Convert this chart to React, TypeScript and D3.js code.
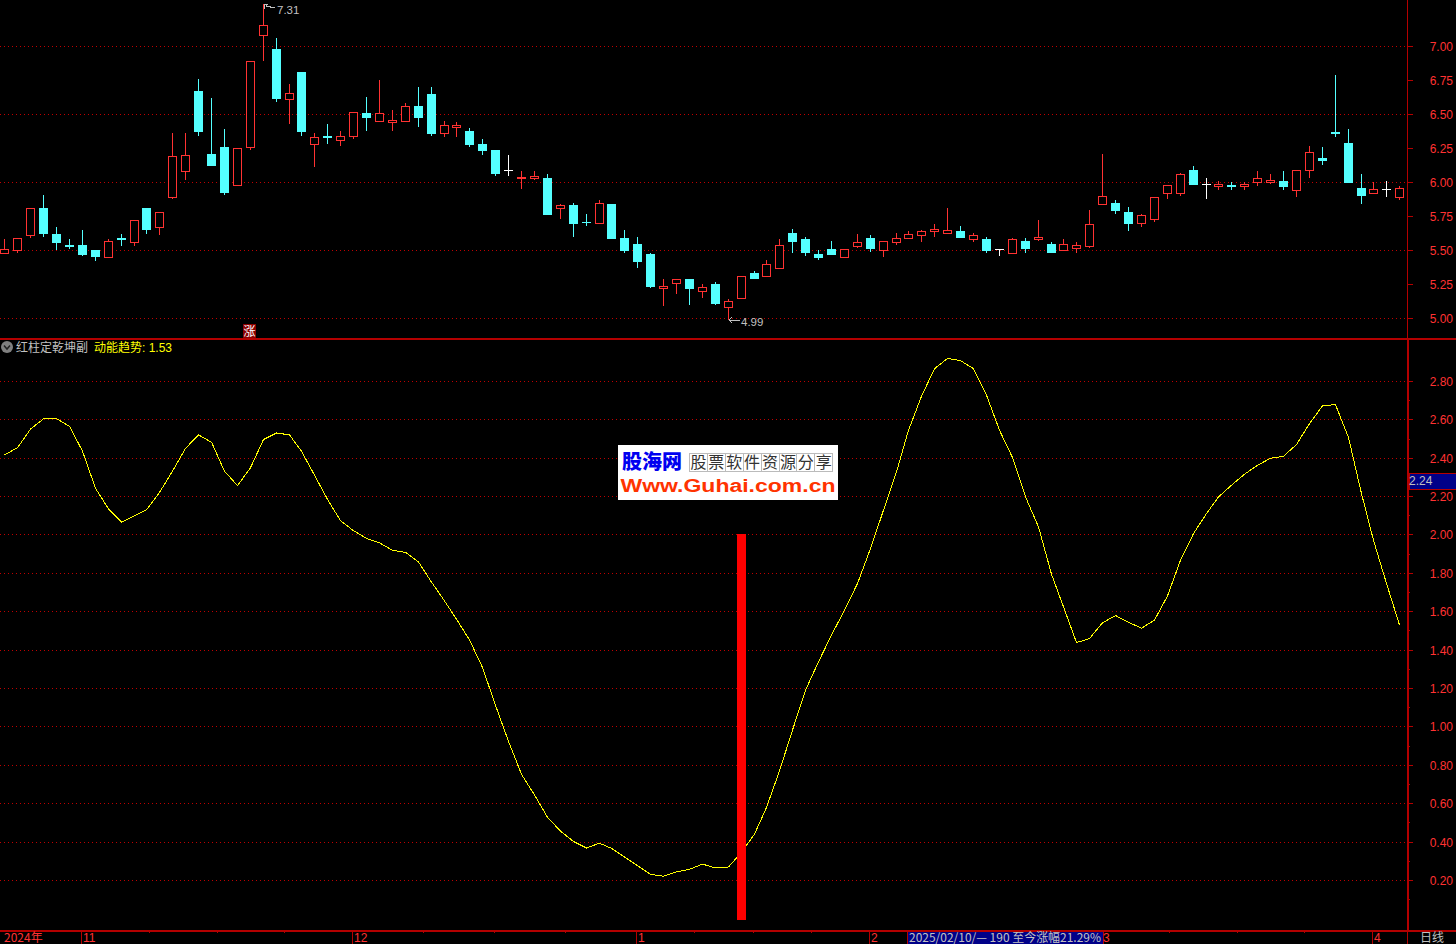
import React from "react";
import * as d3 from "d3";

const highs = [
  5.58,5.59,5.81,5.91,5.67,5.58,5.65,5.50,5.58,5.62,
  5.72,5.81,5.78,6.36,6.36,6.76,6.62,6.39,6.25,6.89,
  7.31,7.06,6.72,6.81,6.36,6.43,6.38,6.52,6.63,6.75,
  6.53,6.58,6.70,6.70,6.45,6.44,6.40,6.32,6.24,6.20,
  6.08,6.08,6.06,5.84,5.85,5.77,5.87,5.84,5.65,5.60,
  5.48,5.29,5.29,5.29,5.25,5.27,5.14,5.31,5.35,5.43,
  5.58,5.66,5.60,5.50,5.57,5.51,5.62,5.61,5.57,5.63,
  5.64,5.65,5.69,5.81,5.68,5.63,5.60,5.51,5.59,5.59,
  5.72,5.56,5.58,5.56,5.80,6.21,5.87,5.82,5.77,5.89,
  5.98,6.07,6.12,6.03,6.01,6.00,6.00,6.08,6.06,6.08,
  6.09,6.27,6.26,6.79,6.39,6.06,6.00,6.01,5.97,
];
const lows = [
  5.47,5.48,5.59,5.60,5.50,5.51,5.46,5.42,5.45,5.53,
  5.53,5.62,5.61,5.88,6.02,6.34,6.13,5.91,5.98,6.24,
  6.89,6.59,6.43,6.34,6.11,6.28,6.27,6.32,6.38,6.44,
  6.38,6.45,6.41,6.34,6.33,6.33,6.26,6.20,6.05,6.05,
  5.95,6.02,5.76,5.73,5.60,5.68,5.70,5.58,5.48,5.37,
  5.22,5.09,5.18,5.10,5.15,5.10,4.99,5.15,5.29,5.31,
  5.36,5.48,5.46,5.43,5.47,5.45,5.52,5.49,5.45,5.54,
  5.59,5.56,5.60,5.63,5.59,5.56,5.48,5.46,5.48,5.48,
  5.57,5.48,5.50,5.48,5.52,5.84,5.77,5.64,5.67,5.71,
  5.88,5.90,5.99,5.88,5.94,5.94,5.94,5.97,5.99,5.94,
  5.89,6.03,6.13,6.33,6.00,5.84,5.92,5.89,5.87,
];
const opens = [
  5.48,5.50,5.61,5.81,5.62,5.54,5.54,5.50,5.45,5.59,
  5.56,5.81,5.67,5.89,6.08,6.67,6.21,6.26,5.98,6.26,
  7.08,6.98,6.61,6.81,6.28,6.34,6.31,6.34,6.51,6.45,
  6.44,6.45,6.56,6.65,6.36,6.41,6.38,6.28,6.24,6.09,
  6.03,6.03,6.03,5.81,5.83,5.71,5.70,5.84,5.59,5.55,
  5.47,5.22,5.26,5.29,5.20,5.25,5.08,5.15,5.33,5.31,
  5.37,5.63,5.58,5.47,5.51,5.45,5.53,5.59,5.50,5.56,
  5.59,5.61,5.64,5.63,5.64,5.58,5.58,5.51,5.48,5.57,
  5.58,5.55,5.50,5.52,5.53,5.84,5.85,5.78,5.70,5.73,
  5.92,5.92,6.09,5.99,5.97,5.98,5.97,6.00,6.00,6.01,
  5.94,6.09,6.18,6.37,6.29,5.96,5.92,5.95,5.89,
];
const closes = [
  5.51,5.59,5.81,5.63,5.56,5.535,5.47,5.46,5.57,5.585,
  5.72,5.66,5.78,6.19,6.20,6.38,6.13,5.93,6.25,6.89,
  7.16,6.62,6.66,6.38,6.33,6.33,6.34,6.52,6.48,6.51,
  6.46,6.56,6.48,6.36,6.42,6.42,6.28,6.24,6.07,6.09,
  6.04,6.05,5.77,5.83,5.70,5.705,5.85,5.59,5.50,5.42,
  5.24,5.24,5.29,5.22,5.23,5.11,5.13,5.31,5.30,5.40,
  5.54,5.57,5.49,5.45,5.47,5.51,5.56,5.52,5.57,5.59,
  5.62,5.64,5.66,5.65,5.60,5.61,5.50,5.51,5.58,5.52,
  5.60,5.49,5.55,5.54,5.69,5.90,5.80,5.70,5.76,5.89,
  5.98,6.06,5.99,5.99,5.99,5.975,5.99,6.03,6.02,5.97,
  6.09,6.22,6.165,6.365,6.00,5.91,5.95,5.95,5.96,
];
const trend = [
  2.42,2.457,2.554,2.608,2.608,2.569,2.439,2.246,2.138,2.07,
  2.102,2.134,2.224,2.335,2.454,2.524,2.486,2.335,2.26,2.353,
  2.50,2.534,2.524,2.439,2.314,2.188,2.077,2.025,1.985,1.962,
  1.923,1.912,1.862,1.757,1.659,1.564,1.456,1.312,1.115,0.927,
  0.756,0.648,0.532,0.46,0.406,0.372,0.397,0.37,0.325,0.28,
  0.235,0.225,0.247,0.261,0.288,0.268,0.273,0.35,0.444,0.583,
  0.774,0.986,1.194,1.342,1.481,1.611,1.75,1.932,2.132,2.331,
  2.548,2.725,2.869,2.922,2.911,2.869,2.731,2.548,2.406,2.201,
  2.045,1.798,1.628,1.442,1.463,1.545,1.583,1.548,1.517,1.559,
  1.685,1.871,2.01,2.114,2.201,2.262,2.319,2.366,2.402,2.413,
  2.474,2.583,2.675,2.682,2.51,2.218,1.975,1.75,1.533,
];
const signalIndex = [57];
const signalTop = 2.0;
const priceTicks = [7.0,6.75,6.5,6.25,6.0,5.75,5.5,5.25,5.0];
const priceGrid = [7.0,6.5,6.0,5.5,5.0];
const trendTicks = [2.8,2.6,2.4,2.2,2.0,1.8,1.6,1.4,1.2,1.0,0.8,0.6,0.4,0.2];
const trendMinor = [2.7,2.5,2.3,2.1,1.9,1.7,1.5,1.3,1.1,0.9,0.7,0.5,0.3,0.1];
const monthIdx = [6,27,49,67,85,106];
const monthLabels = ["11","12","1","2","3","4"];

const RED = "#ff3232", CYAN = "#54ffff", AXIS = "#b40000", GRID = "#c00000", GREY = "#c0c0c0", YEL = "#ffff00";
const CJK = "'Noto Sans CJK SC'";
const NUM = "'Liberation Sans'";
const AX = 1407;

const xIdx = d3.scaleLinear().domain([0,108]).range([4.93,1399.75]);
const col = (i:number) => Math.floor(xIdx(i)) + 0.5;
const yP = d3.scaleLinear().domain([5,7]).range([318.3,46.3]);
const yT = d3.scaleLinear().domain([0,2.8]).range([918.9,381.42]);
const px = (v:number) => Math.round(v);
const fl = (v:number) => Math.floor(v);

const line = d3.line<number>().x((_,i)=>col(i)).y(d=>yT(d)+0.5);

function Candle({i}:{i:number}) {
  const o=opens[i],c=closes[i],h=highs[i],l=lows[i];
  const color = c>o?RED:c<o?CYAN:"#ffffff";
  const x=col(i);
  const t=px(yP(Math.max(o,c))), b=px(yP(Math.min(o,c)));
  const yh=px(yP(h)), yl=px(yP(l));
  const wick = <>
    {yh<t && <line x1={x} x2={x} y1={yh} y2={t} stroke={color}/>}
    {yl>b && <line x1={x} x2={x} y1={b} y2={yl} stroke={color}/>}
  </>;
  if (t===b) return <g>
    <line x1={x} x2={x} y1={yh} y2={yl} stroke={color}/>
    <line x1={x-4.5} x2={x+4.5} y1={t+.5} y2={t+.5} stroke={color}/>
  </g>;
  return <g>{wick}
    {c>o
      ? <rect x={x-4} y={t+.5} width={8} height={b-t} fill="#000" stroke={color}/>
      : <rect x={x-4.5} y={t} width={9} height={b-t+1} fill={color}/>}
  </g>;
}

function Hline({row}:{row:number}) {
  return <line x1={0} x2={AX} y1={row+.5} y2={row+.5} stroke={GRID} strokeDasharray="1 3"/>;
}

const months = monthIdx.map(i=>Math.floor(xIdx(i))-1);
const quarter:number[] = [];
months.slice(0,-1).forEach((m,k)=>{
  const n=months[k+1];
  [1,2,3].forEach(q=>quarter.push(Math.round(m+(n-m)*q/4)));
});

const wmChars = "股票软件资源分享".split("");

export default function App() {
  return (
    <svg width={1456} height={944} viewBox="0 0 1456 944"
      style={{position:"fixed",left:0,top:0,background:"#000",display:"block"}}>
      <rect width={1456} height={944} fill="#000"/>
      <g shapeRendering="crispEdges">
        {priceGrid.map(v=><Hline key={v} row={px(yP(v))}/>)}
        {trendTicks.map(v=><Hline key={v} row={fl(yT(v))}/>)}
        {d3.range(highs.length).map(i=><Candle key={i} i={i}/>)}
        {signalIndex.map(i=>(
          <rect key={i} x={Math.floor(xIdx(i))-4} y={fl(yT(signalTop))} width={9} height={fl(yT(0))+2-fl(yT(signalTop))} fill="#ff0000"/>
        ))}
        <rect x={0} y={338} width={1456} height={1.5} fill={AXIS}/>
        <rect x={0} y={930} width={1456} height={1.5} fill={AXIS}/>
        <rect x={AX} y={0} width={1} height={338} fill={AXIS}/>
        <rect x={AX} y={338} width={2} height={593} fill={AXIS}/>
        <rect x={AX} y={931} width={1} height={13} fill={AXIS}/>
        {priceTicks.map(v=><rect key={v} x={AX} y={px(yP(v))} width={6} height={1} fill={AXIS}/>)}
        {trendTicks.map(v=><rect key={v} x={AX} y={fl(yT(v))} width={6} height={1} fill={AXIS}/>)}
        {trendMinor.map(v=><rect key={v} x={AX} y={fl(yT(v))} width={3} height={1} fill={AXIS}/>)}
        {months.map(m=><rect key={m} x={m} y={931} width={1} height={13} fill={AXIS}/>)}
        {quarter.map(m=><rect key={m} x={m} y={931} width={1} height={2} fill={AXIS}/>)}
      </g>
      <defs>
        <clipPath id="noBar">
          <rect x={0} y={339} width={737} height={590}/>
          <rect x={746} y={339} width={660} height={590}/>
        </clipPath>
      </defs>
      <path d={line(trend)||""} fill="none" stroke={YEL} strokeWidth={1} shapeRendering="crispEdges"
        clipPath="url(#noBar)"/>

      <g fontFamily={NUM} fontSize={12} fill={RED} textAnchor="end">
        {priceTicks.map(v=><text key={v} x={1453} y={px(yP(v))+4.5}>{v.toFixed(2)}</text>)}
        {trendTicks.map(v=><text key={v} x={1453} y={fl(yT(v))+4.5}>{v.toFixed(2)}</text>)}
      </g>

      <g fontFamily={NUM} fontSize={11.5} fill={GREY}>
        <polyline points="264,9 264,4 268,4 266,6 275,8" fill="none" stroke={GREY} shapeRendering="crispEdges"/>
        <text x={277} y={14}>{highs[20].toFixed(2)}</text>
        <polyline points="732,317 729,320 732,323 729,320 740,320" fill="none" stroke={GREY} shapeRendering="crispEdges"/>
        <text x={741} y={326}>{lows[56].toFixed(2)}</text>
      </g>

      <rect x={243} y={324} width={13} height={14} fill="#8b0000" shapeRendering="crispEdges"/>
      <text x={249.5} y={335.5} fontFamily={CJK} fontSize={12} fill="#fff" textAnchor="middle">涨</text>

      <circle cx={7} cy={347} r={6} fill="#808080"/>
      <polyline points="4,345.5 7,349 10,345.5" fill="none" stroke="#222" strokeWidth={1.5}/>
      <text x={16} y={352} fontFamily={CJK} fontSize={12} fill={GREY}>红柱定乾坤副</text>
      <text x={94} y={352} fontFamily={CJK} fontSize={12} fill={YEL}>动能趋势</text>
      <text x={142} y={352} fontFamily={NUM} fontSize={12} fill={YEL}>: 1.53</text>

      <rect x={1409.5} y={473.5} width={47} height={15.5} fill="#000088" stroke={AXIS} shapeRendering="crispEdges"/>
      <text x={1409} y={485} fontFamily={NUM} fontSize={12} fill={GREY}>2.24</text>

      <g fontFamily={CJK} fontSize={12} fill={RED}>
        <text x={4} y={942}>2024年</text>
        {monthLabels.map((t,k)=> k===4 ? null : (
          <text key={t} x={months[k]+2} y={942} fontFamily={NUM}>{t}</text>
        ))}
      </g>
      <rect x={907.5} y={931} width={196} height={13} fill="#000088" stroke={AXIS} shapeRendering="crispEdges"/>
      <text x={909} y={942} fontFamily={CJK} fontSize={12} fill={GREY} textLength={192} lengthAdjust="spacingAndGlyphs">2025/02/10/— 190 至今涨幅21.29%</text>
      <text x={months[4]+2} y={942} fontFamily={NUM} fontSize={12} fill={RED}>{monthLabels[4]}</text>
      <text x={1420} y={942} fontFamily={CJK} fontSize={12} fill={GREY}>日线</text>

      <g>
        <rect x={618} y={445} width={220} height={55} fill="#fff"/>
        <text x={622} y={469} fontFamily={CJK} fontWeight={900} fontSize={20} fill="#0000f0">股海网</text>
        {wmChars.map((ch,k)=>(
          <g key={ch+k}>
            <rect x={689.5+k*17.9} y={453.5} width={17.9} height={18} fill="none" stroke="#bbb" shapeRendering="crispEdges"/>
            <text x={698.4+k*17.9} y={468} textAnchor="middle" fontFamily={CJK} fontSize={16} fill="#333">{ch}</text>
          </g>
        ))}
        <text x={620.5} y={491.5} fontFamily="'Liberation Sans'" fontWeight={700} fontSize={18} fill="#ff3300" textLength={215} lengthAdjust="spacingAndGlyphs">Www.Guhai.com.cn</text>
      </g>
    </svg>
  );
}
